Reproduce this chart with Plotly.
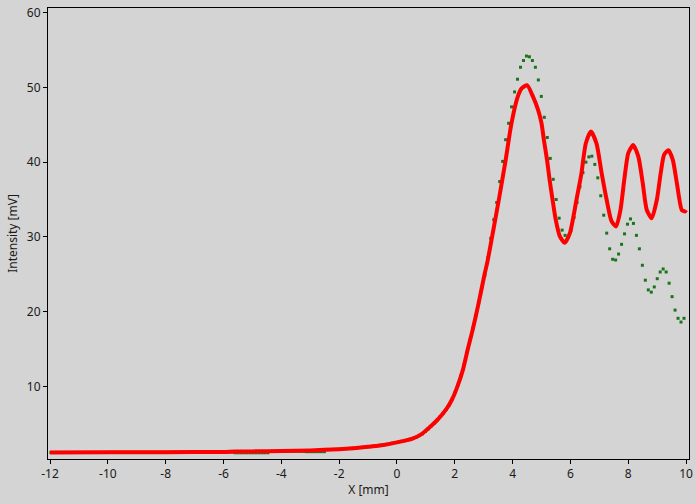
import plotly.graph_objects as go

# Red trace (continuous curve)
red_x = [-12, -10, -8, -6, -5.6, -5, -4, -3, -2, -1.5, -1, -0.6, 0, 0.54, 0.85, 1.12, 1.4, 1.7, 1.9,
         2.05, 2.28, 2.45, 2.62, 2.8, 3.03, 3.14, 3.26, 3.52, 3.76, 3.95, 4.18, 4.32, 4.5, 4.7, 4.88,
         5.0, 5.08, 5.19, 5.28, 5.38, 5.49, 5.63, 5.8, 5.98, 6.21, 6.38, 6.53, 6.71, 6.9, 7.08, 7.25,
         7.42, 7.58, 7.73, 7.86, 8.0, 8.17, 8.35, 8.5, 8.64, 8.81, 8.99, 9.12, 9.24, 9.39, 9.54, 9.68,
         9.85, 9.96, 10.0]
red_y = [1.15, 1.17, 1.19, 1.22, 1.27, 1.29, 1.33, 1.42, 1.58, 1.72, 1.9, 2.07, 2.5, 3.0, 3.6, 4.48, 5.5, 6.9, 8.2,
         9.56, 12.2, 15.0, 17.6, 20.7, 25.0, 26.9, 29.4, 34.9, 40.3, 45.0, 48.8, 49.9, 50.3, 48.8, 47.0,
         45.2, 43.0, 40.3, 37.6, 35.0, 32.3, 30.1, 29.2, 30.5, 35.0, 38.5, 42.5, 44.1, 42.5, 38.5, 35.0,
         32.1, 31.4, 33.6, 37.6, 41.2, 42.3, 40.7, 37.2, 33.6, 32.5, 35.0, 38.5, 41.0, 41.6, 40.3, 37.2,
         33.6, 33.4, 33.6]

green_x0 = -11.97
green_dx = 0.1028
green_y = (
    [1.15] * 20 + [1.17] * 20 + [1.19] * 18 + [1.2] * 4 + [1.1] * 12 + [1.3] * 12 + [1.25] * 7 +
    [1.52, 1.53, 1.55, 1.57, 1.58, 1.61, 1.64, 1.67, 1.70, 1.73, 1.76, 1.80, 1.84, 1.88, 1.92, 1.97,
     2.02, 2.06, 2.12, 2.18, 2.25, 2.32, 2.40, 2.48, 2.55, 2.63, 2.72, 2.82, 2.93, 3.05, 3.2, 3.4,
     3.65, 3.95, 4.3, 4.7, 5.1, 5.5, 5.95, 6.4, 6.9, 7.5, 8.3, 9.2, 10.2, 11.4, 12.9, 14.6, 16.2,
     17.8, 19.5, 21.3, 23.2,
     24.9, 27.2, 29.8, 32.3, 34.6, 37.4, 40.1, 43.0, 45.2, 47.4, 49.4, 51.1, 52.7, 53.6, 54.2, 54.1,
     53.6, 52.7, 51.0, 48.8, 46.0, 43.3, 40.5, 37.7, 35.0, 32.5, 30.9, 30.2, 30.0, 30.9, 32.6, 34.6,
     36.7, 38.6, 40.0, 40.7, 40.8, 39.7, 37.9, 35.5, 32.9, 30.5, 28.4, 27.0, 26.9, 27.7, 29.0, 30.4,
     31.7, 32.4, 31.8, 30.2, 28.4, 26.2, 24.2, 22.9, 22.6, 23.3, 24.4, 25.3, 25.7, 25.3, 23.8, 22.0,
     20.2, 19.1, 18.6, 19.1]
)
green_x = [round(green_x0 + green_dx * i, 4) for i in range(len(green_y))]

x_ticks = [-12, -10, -8, -6, -4, -2, 0, 2, 4, 6, 8, 10]
y_ticks = [10, 20, 30, 40, 50, 60]

BG = "#d4d4d4"
FONT = dict(family="Noto Sans", size=12, color="#1a1a1a")

fig = go.Figure()
fig.add_trace(go.Scatter(x=green_x, y=green_y, mode="markers",
                         marker=dict(symbol="square", size=3, color="#1b741b", line=dict(width=0)),
                         showlegend=False, hoverinfo="skip", cliponaxis=False))
fig.add_trace(go.Scatter(x=red_x, y=red_y, mode="lines",
                         line=dict(color="#ff0000", width=4, shape="spline", smoothing=0.6),
                         showlegend=False, hoverinfo="skip"))

fig.update_layout(
    width=696, height=504,
    margin=dict(l=48, r=7, t=8, b=45, autoexpand=False),
    paper_bgcolor=BG, plot_bgcolor=BG,
    font=FONT,
    xaxis=dict(range=[-12.07, 10.1], tickvals=x_ticks, ticktext=[str(v) for v in x_ticks],
               showgrid=False, zeroline=False, showline=True, linecolor="black", linewidth=1,
               mirror=True, ticks="outside", ticklen=4, tickcolor="black", automargin=False,
               title=dict(text="X [mm]", standoff=4, font=FONT)),
    yaxis=dict(range=[0.27, 60.63], tickvals=y_ticks, ticktext=[str(v) for v in y_ticks],
               showgrid=False, zeroline=False, showline=True, linecolor="black", linewidth=1,
               mirror=True, ticks="outside", ticklen=4, tickcolor="black", automargin=False,
               title=dict(text="Intensity [mV]", standoff=6, font=FONT)),
)
fig.write_html("out.html", config={"displayModeBar": False},
               post_script="document.body.style.margin='0';document.body.style.background='#d4d4d4';")
